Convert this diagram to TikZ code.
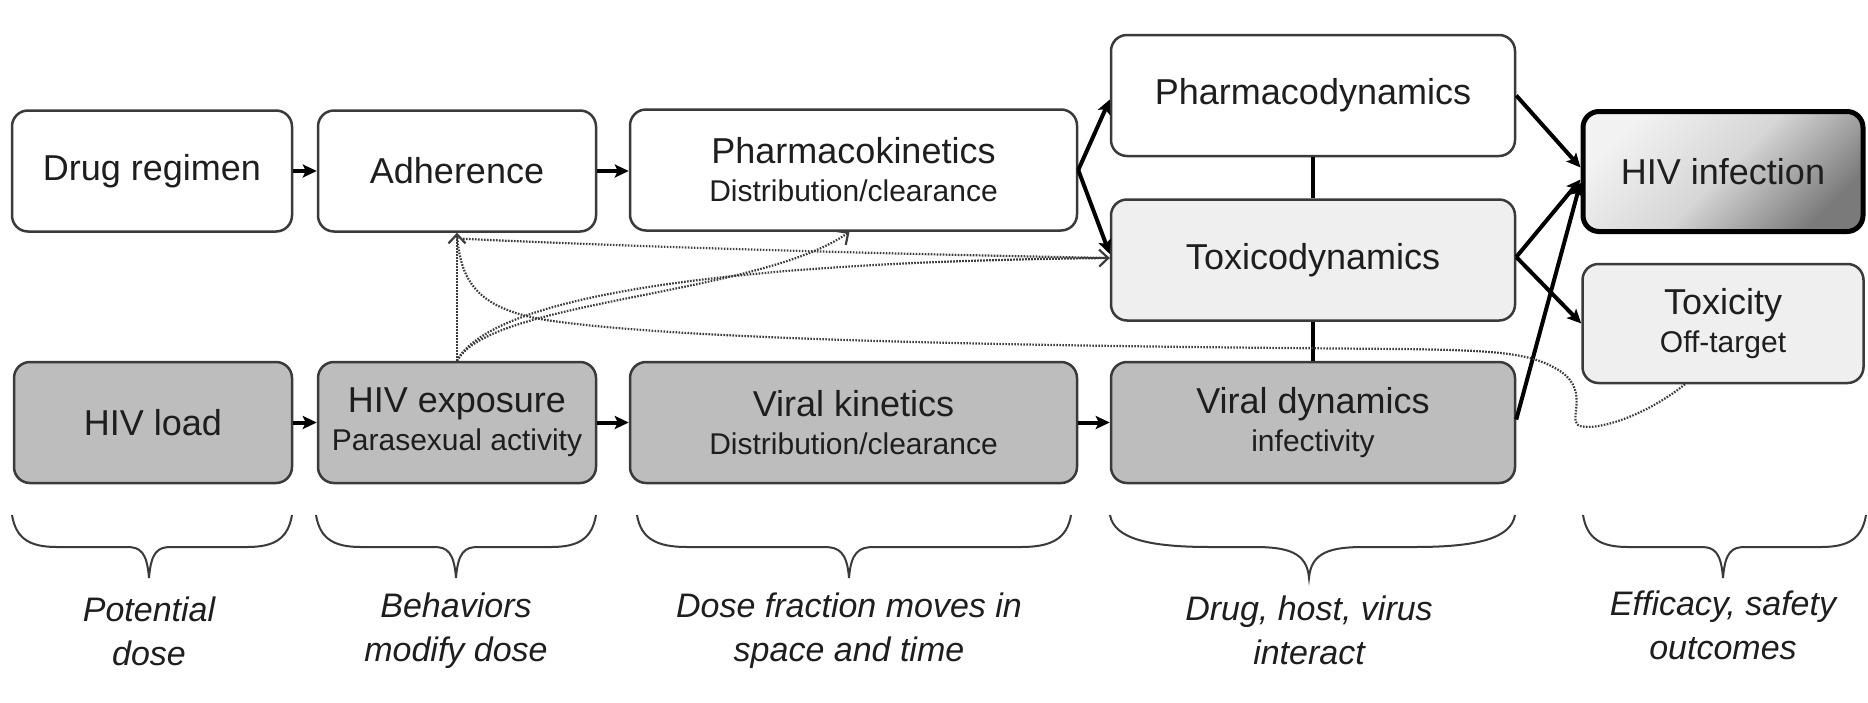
\documentclass[tikz,border=0pt]{standalone}
\usepackage{fontspec}
\setmainfont{Liberation Sans}
\usetikzlibrary{arrows.meta,calc}
\definecolor{edgec}{HTML}{3A3A3A}
\definecolor{darkfill}{HTML}{BDBDBD}
\definecolor{lightfill}{HTML}{EFEFEF}
\definecolor{dotc}{HTML}{3C3C3C}
\definecolor{txtc}{HTML}{1E1E1E}
\newcommand\mainf{\fontsize{36}{38}\selectfont}
\newcommand\subf{\fontsize{30}{38}\selectfont}
\newcommand\labf{\fontsize{34}{44}\selectfont\itshape}
% #1 left x, #2 right x, #3 tip x, #4 end curve width, #5 cusp half width
\newcommand\hbrace[5]{%
  \draw[bracestyle] (#1,515) .. controls (#1+4,539) and (#1+#4*0.4,547) .. (#1+#4,547)
    -- (#3-#5,547) .. controls (#3-#5*0.4,547) and (#3-2,552) .. (#3,578)
    .. controls (#3+2,552) and (#3+#5*0.4,547) .. (#3+#5,547)
    -- (#2-#4,547) .. controls (#2-#4*0.4,547) and (#2-4,539) .. (#2,515);}
\begin{document}
\begin{tikzpicture}[x=1pt,y=-1pt,
  box/.style={draw=edgec, line width=2.5pt, rounded corners=16pt, align=center,
    inner sep=0pt, minimum height=121pt, text=txtc, font=\mainf},
  twoline/.style={font=\subf},
  whitebox/.style={box, fill=white},
  lightbox/.style={box, fill=lightfill},
  darkbox/.style={box, fill=darkfill},
  infbox/.style={box, draw=black, line width=5pt, top color=white!95!black,
    bottom color=black!52, middle color=white!84!black, shading angle=45, minimum height=120pt},
  flow/.style={draw=black, line width=4pt, -{Stealth[length=14pt,width=13pt,inset=3pt]}},
  link/.style={draw=black, line width=4.5pt},
  dotline/.style={draw=dotc, line width=2.2pt, dash pattern=on 1.6pt off 1.4pt},
  dotarrow/.style={dotline, -{Straight Barb[length=9pt,width=17pt,line width=2.2pt]}},
  bracestyle/.style={draw=edgec, line width=2pt},
  lab/.style={font=\labf, align=center, text=txtc, inner sep=0pt}]
\fill[white] (0,0) rectangle (1868,702);
\useasboundingbox (0,0) rectangle (1868,702);

% boxes
\node[whitebox, minimum width=280pt] (dr) at (152,171) {Drug regimen};
\node[whitebox, minimum width=278pt] (adh) at (457,171) {Adherence};
\node[whitebox, twoline, minimum width=447pt] (pk) at (853.5,170) {{\mainf Pharmacokinetics}\\Distribution/clearance};
\node[whitebox, minimum width=404pt] (pd) at (1313,95.5) {Pharmacodynamics};
\node[lightbox, minimum width=404pt] (td) at (1313,260) {Toxicodynamics};
\node[infbox, minimum width=280pt] (inf) at (1723,171.5) {HIV infection};
\node[lightbox, twoline, minimum width=281pt, minimum height=119pt] (tox) at (1723,323.5) {{\mainf Toxicity}\\Off-target};
\node[darkbox, minimum width=278pt] (load) at (153,422.5) {HIV load};
\node[darkbox, twoline, minimum width=278pt] (exp) at (457,422.5) {{\mainf HIV exposure}\\Parasexual activity};
\node[darkbox, twoline, minimum width=447pt] (vk) at (853.5,422.5) {{\mainf Viral kinetics}\\Distribution/clearance};
\node[darkbox, twoline, minimum width=404pt] (vd) at (1313,422.5) {{\mainf Viral dynamics}\\infectivity};

% solid flows
\draw[flow] (dr.east) -- (adh.west);
\draw[flow] (adh.east) -- (adh.east -| pk.west);
\draw[flow] (load.east) -- (exp.west);
\draw[flow] (exp.east) -- (vk.west);
\draw[flow] (vk.east) -- (vd.west);
\draw[flow] (pk.east) -- ($(pd.west)+(0,4)$);
\draw[flow] (pk.east) -- ($(td.west)+(0,-6)$);
\draw[link] (pd.south) -- (td.north);
\draw[link] (td.south) -- (vd.north);
\draw[flow] (pd.east) -- ($(inf.west)+(0,-4)$);
\draw[flow] ($(td.east)+(0,-3)$) -- ($(inf.west)+(0,8)$);
\draw[flow] ($(td.east)+(0,-3)$) -- (tox.west);
\draw[flow] ($(vd.east)+(0,-3)$) -- ($(inf.west)+(0,11)$);

% dotted influences
\draw[dotarrow] (exp.north) -- (adh.south);
\draw[dotarrow] (exp.north) .. controls (490,300) and (760,295) .. ($(pk.south)+(-4,0)$);
\draw[dotarrow] (exp.north) .. controls (490,300) and (700,262) .. ($(td.west)+(0,-2)$);
\draw[dotline] ($(adh.south)+(6,6)$) .. controls (700,250) and (1000,256) .. ($(td.west)+(0,-2)$);
\coordinate (tb) at ($(tox.south)+(-38,0)$);
\draw[dotline] (tb) .. controls (1640,420) and (1590,432) .. (1578,425)
  .. controls (1568,418) and (1592,388) .. (1555,368)
  .. controls (1530,354) and (1500,350) .. (1400,349)
  .. controls (1000,346) and (700,340) .. (560,322)
  .. controls (480,312) and (460,285) .. (adh.south);

% braces
\hbrace{12}{292}{149}{45}{22}
\hbrace{316}{596}{456}{45}{22}
\hbrace{637}{1071}{849}{50}{25}
\hbrace{1110}{1515}{1309}{100}{55}
\hbrace{1583}{1866}{1723}{45}{22}

% labels
\node[lab] (l1) at (149,631) {Potential\\dose};
\node[lab] (l2) at (456,631) {Behaviors\\modify dose};
\node[lab] (l3) at (849,631) {Dose fraction moves in\\space and time};
\node[lab] (l4) at (1309,630) {Drug, host, virus\\interact};
\node[lab] (l5) at (1723,625) {Efficacy, safety\\outcomes};
\end{tikzpicture}
\end{document}
